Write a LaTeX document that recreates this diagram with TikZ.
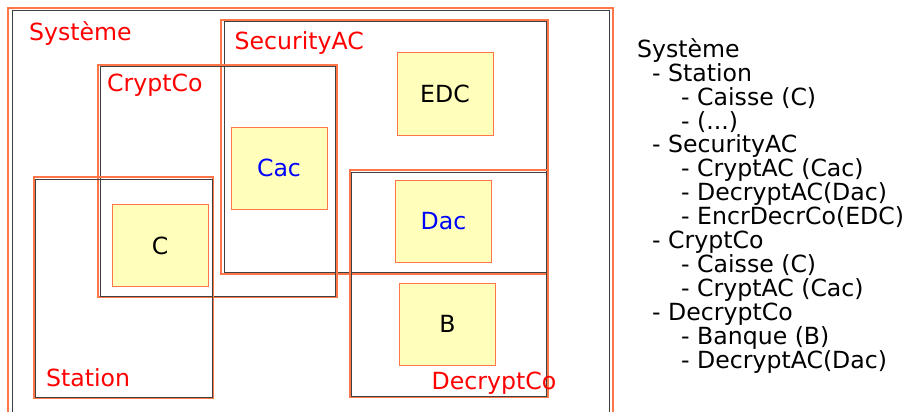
\documentclass[tikz,border=0pt]{standalone}
\usepackage{fontspec}
\setmainfont{DejaVu Sans}
\definecolor{frameorange}{RGB}{255,118,72}
\definecolor{boxyellow}{RGB}{255,255,187}
\tikzset{
    outerline/.style={draw=frameorange, line width=1.5pt},
    innerline/.style={draw=black!75, line width=1pt},
    partbox/.style={draw=frameorange, line width=1pt, fill=boxyellow,
        minimum width=96pt, minimum height=82pt, inner sep=0pt},
    grouplabel/.style={text=red, anchor=base west, inner sep=0pt},
    treeline/.style={anchor=base west, inner sep=0pt},
}
\begin{document}
\begin{tikzpicture}[x=1pt, y=-1pt, font=\fontsize{23.6}{24}\selectfont]
    \useasboundingbox (0,0) rectangle (908,412);
    \clip (0,0) rectangle (908,412);
    % Systeme
    \draw[outerline] (8,8) rectangle (613,430);
    \draw[innerline] (12,11) rectangle (609,430);
    % SecurityAC
    \draw[outerline] (221,20) rectangle (548,274);
    \draw[innerline] (224,22) rectangle (546,272);
    % CryptCo
    \draw[outerline] (98,65) rectangle (337,297);
    \draw[innerline] (100,67) rectangle (335,296);
    % Station
    \draw[outerline] (34,177) rectangle (213,398);
    \draw[innerline] (35,179) rectangle (212,397);
    % DecryptCo
    \draw[outerline] (350,170) rectangle (548,397);
    \draw[innerline] (351,172) rectangle (546,396);
    % components
    \node[partbox, text=blue] (cac) at (279,168) {Cac};
    \node[partbox] (caisse) at (160,245.5) {C};
    \node[partbox] (edc) at (445,94) {EDC};
    \node[partbox, text=blue] (dac) at (443.5,221.5) {Dac};
    \node[partbox] (banque) at (447.5,324) {B};
    % group labels
    \node[grouplabel] (lsysteme) at (29,41) {Système};
    \node[grouplabel] (lsecurity) at (234.5,50) {SecurityAC};
    \node[grouplabel] (lcryptco) at (107,91.5) {CryptCo};
    \node[grouplabel] (lstation) at (46,386) {Station};
    \node[grouplabel] (ldecryptco) at (431.5,389.5) {DecryptCo};
    % hierarchy
    \foreach \x/\t [count=\i from 0] in {637/{Système}, 652/{- Station},
        681/{- Caisse (C)}, 681/{- (...)}, 652/{- SecurityAC},
        681/{- CryptAC (Cac)}, 681/{- DecryptAC(Dac)}, 681/{- EncrDecrCo(EDC)},
        652/{- CryptCo}, 681/{- Caisse (C)}, 681/{- CryptAC (Cac)},
        652/{- DecryptCo}, 681/{- Banque (B)}, 681/{- DecryptAC(Dac)}}
        \node[treeline] (tree\i) at (\x,57.3+23.9*\i) {\t};
\end{tikzpicture}
\end{document}
